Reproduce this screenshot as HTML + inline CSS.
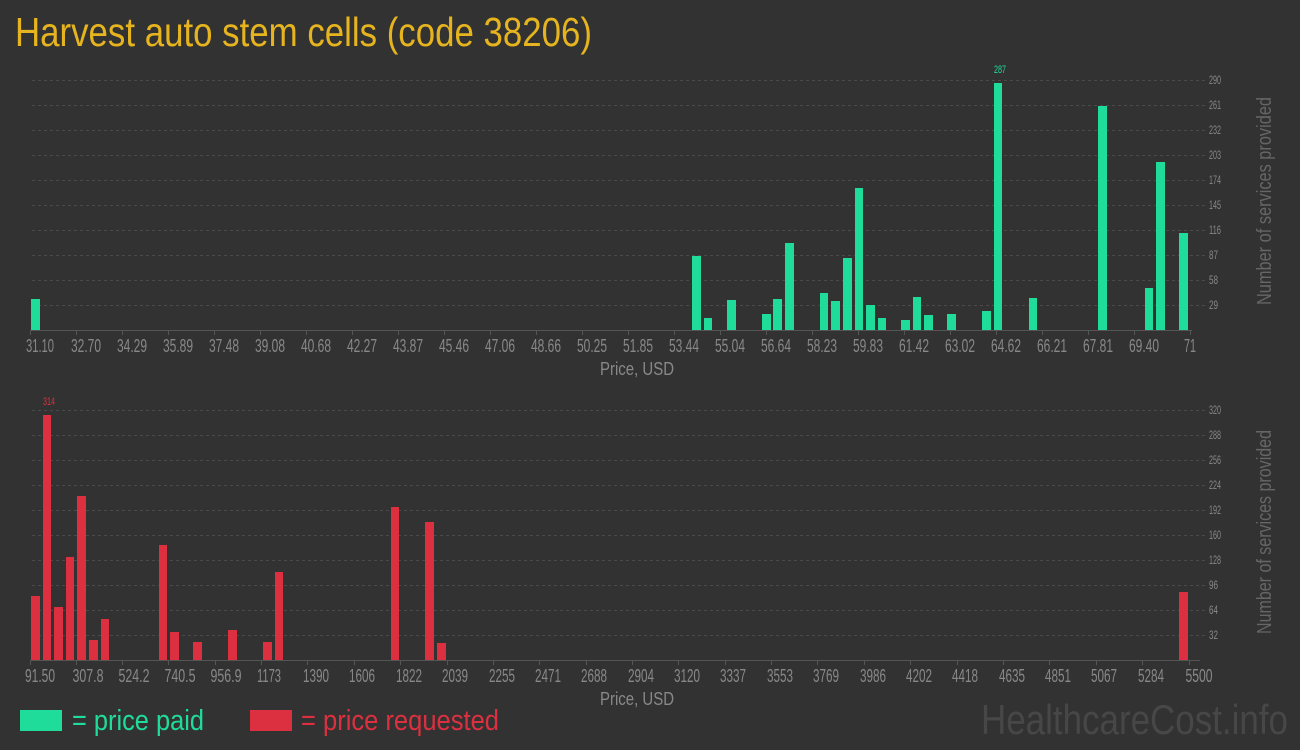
<!DOCTYPE html>
<html><head><meta charset="utf-8"><style>
html,body{margin:0;padding:0;background:#323232;}
svg{display:block;}
text{font-family:"Liberation Sans",sans-serif;}
</style></head><body>
<svg width="1300" height="750" viewBox="0 0 1300 750" xmlns="http://www.w3.org/2000/svg">
<rect width="1300" height="750" fill="#323232"/>
<text x="15" y="46" font-size="41" fill="#e6b41e" textLength="577" lengthAdjust="spacingAndGlyphs">Harvest auto stem cells (code 38206)</text>

<!-- TOP CHART -->
<g stroke="#4a4a4a" stroke-dasharray="3,3" stroke-width="1">
<line x1="32" y1="80.5" x2="1206" y2="80.5"/><line x1="32" y1="105.5" x2="1206" y2="105.5"/><line x1="32" y1="130.5" x2="1206" y2="130.5"/><line x1="32" y1="155.5" x2="1206" y2="155.5"/><line x1="32" y1="180.5" x2="1206" y2="180.5"/><line x1="32" y1="205.5" x2="1206" y2="205.5"/><line x1="32" y1="230.5" x2="1206" y2="230.5"/><line x1="32" y1="255.5" x2="1206" y2="255.5"/><line x1="32" y1="280.5" x2="1206" y2="280.5"/><line x1="32" y1="305.5" x2="1206" y2="305.5"/>
</g>
<g font-size="12" fill="#888">
<text x="1209" y="84" textLength="12" lengthAdjust="spacingAndGlyphs">290</text><text x="1209" y="109" textLength="12" lengthAdjust="spacingAndGlyphs">261</text><text x="1209" y="134" textLength="12" lengthAdjust="spacingAndGlyphs">232</text><text x="1209" y="159" textLength="12" lengthAdjust="spacingAndGlyphs">203</text><text x="1209" y="184" textLength="12" lengthAdjust="spacingAndGlyphs">174</text><text x="1209" y="209" textLength="12" lengthAdjust="spacingAndGlyphs">145</text><text x="1209" y="234" textLength="12" lengthAdjust="spacingAndGlyphs">116</text><text x="1209" y="259" textLength="9" lengthAdjust="spacingAndGlyphs">87</text><text x="1209" y="284" textLength="9" lengthAdjust="spacingAndGlyphs">58</text><text x="1209" y="309" textLength="9" lengthAdjust="spacingAndGlyphs">29</text>
</g>
<g fill="#20dc9a">
<rect x="31" y="299" width="9" height="31"/>
<rect x="692" y="256" width="9" height="74"/><rect x="704" y="318" width="8" height="12"/><rect x="727" y="300" width="9" height="30"/><rect x="762" y="314" width="9" height="16"/><rect x="773" y="299" width="9" height="31"/><rect x="785" y="243" width="9" height="87"/><rect x="820" y="293" width="8" height="37"/><rect x="831" y="301" width="9" height="29"/><rect x="843" y="258" width="9" height="72"/><rect x="855" y="188" width="8" height="142"/><rect x="866" y="305" width="9" height="25"/><rect x="878" y="318" width="8" height="12"/><rect x="901" y="320" width="9" height="10"/><rect x="913" y="297" width="8" height="33"/><rect x="924" y="315" width="9" height="15"/><rect x="947" y="314" width="9" height="16"/><rect x="982" y="311" width="9" height="19"/><rect x="994" y="83" width="8" height="247"/><rect x="1029" y="298" width="8" height="32"/><rect x="1098" y="106" width="9" height="224"/><rect x="1145" y="288" width="8" height="42"/><rect x="1156" y="162" width="9" height="168"/><rect x="1179" y="233" width="9" height="97"/>
</g>
<text x="1000" y="73" font-size="11" fill="#20dc9a" text-anchor="middle" textLength="12" lengthAdjust="spacingAndGlyphs">287</text>
<line x1="30" y1="330.5" x2="1192" y2="330.5" stroke="#555" stroke-width="1"/>
<g font-size="18" fill="#888" text-anchor="middle">
<text x="40" y="352" textLength="28" lengthAdjust="spacingAndGlyphs">31.10</text><text x="86" y="352" textLength="30" lengthAdjust="spacingAndGlyphs">32.70</text><text x="132" y="352" textLength="30" lengthAdjust="spacingAndGlyphs">34.29</text><text x="178" y="352" textLength="30" lengthAdjust="spacingAndGlyphs">35.89</text><text x="224" y="352" textLength="30" lengthAdjust="spacingAndGlyphs">37.48</text><text x="270" y="352" textLength="30" lengthAdjust="spacingAndGlyphs">39.08</text><text x="316" y="352" textLength="30" lengthAdjust="spacingAndGlyphs">40.68</text><text x="362" y="352" textLength="30" lengthAdjust="spacingAndGlyphs">42.27</text><text x="408" y="352" textLength="30" lengthAdjust="spacingAndGlyphs">43.87</text><text x="454" y="352" textLength="30" lengthAdjust="spacingAndGlyphs">45.46</text><text x="500" y="352" textLength="30" lengthAdjust="spacingAndGlyphs">47.06</text><text x="546" y="352" textLength="30" lengthAdjust="spacingAndGlyphs">48.66</text><text x="592" y="352" textLength="30" lengthAdjust="spacingAndGlyphs">50.25</text><text x="638" y="352" textLength="30" lengthAdjust="spacingAndGlyphs">51.85</text><text x="684" y="352" textLength="30" lengthAdjust="spacingAndGlyphs">53.44</text><text x="730" y="352" textLength="30" lengthAdjust="spacingAndGlyphs">55.04</text><text x="776" y="352" textLength="30" lengthAdjust="spacingAndGlyphs">56.64</text><text x="822" y="352" textLength="30" lengthAdjust="spacingAndGlyphs">58.23</text><text x="868" y="352" textLength="30" lengthAdjust="spacingAndGlyphs">59.83</text><text x="914" y="352" textLength="30" lengthAdjust="spacingAndGlyphs">61.42</text><text x="960" y="352" textLength="30" lengthAdjust="spacingAndGlyphs">63.02</text><text x="1006" y="352" textLength="30" lengthAdjust="spacingAndGlyphs">64.62</text><text x="1052" y="352" textLength="30" lengthAdjust="spacingAndGlyphs">66.21</text><text x="1098" y="352" textLength="30" lengthAdjust="spacingAndGlyphs">67.81</text><text x="1144" y="352" textLength="30" lengthAdjust="spacingAndGlyphs">69.40</text><text x="1190" y="352" textLength="12" lengthAdjust="spacingAndGlyphs">71</text>
</g>
<text x="637" y="375" font-size="18" fill="#888" text-anchor="middle" textLength="74" lengthAdjust="spacingAndGlyphs">Price, USD</text>
<text transform="translate(1271,201) rotate(-90)" font-size="20" fill="#666" text-anchor="middle" textLength="208" lengthAdjust="spacingAndGlyphs">Number of services provided</text>

<!-- BOTTOM CHART -->
<g stroke="#4a4a4a" stroke-dasharray="3,3" stroke-width="1">
<line x1="32" y1="410.5" x2="1206" y2="410.5"/><line x1="32" y1="435.5" x2="1206" y2="435.5"/><line x1="32" y1="460.5" x2="1206" y2="460.5"/><line x1="32" y1="485.5" x2="1206" y2="485.5"/><line x1="32" y1="510.5" x2="1206" y2="510.5"/><line x1="32" y1="535.5" x2="1206" y2="535.5"/><line x1="32" y1="560.5" x2="1206" y2="560.5"/><line x1="32" y1="585.5" x2="1206" y2="585.5"/><line x1="32" y1="610.5" x2="1206" y2="610.5"/><line x1="32" y1="635.5" x2="1206" y2="635.5"/>
</g>
<g font-size="12" fill="#888">
<text x="1209" y="414" textLength="12" lengthAdjust="spacingAndGlyphs">320</text><text x="1209" y="439" textLength="12" lengthAdjust="spacingAndGlyphs">288</text><text x="1209" y="464" textLength="12" lengthAdjust="spacingAndGlyphs">256</text><text x="1209" y="489" textLength="12" lengthAdjust="spacingAndGlyphs">224</text><text x="1209" y="514" textLength="12" lengthAdjust="spacingAndGlyphs">192</text><text x="1209" y="539" textLength="12" lengthAdjust="spacingAndGlyphs">160</text><text x="1209" y="564" textLength="12" lengthAdjust="spacingAndGlyphs">128</text><text x="1209" y="589" textLength="9" lengthAdjust="spacingAndGlyphs">96</text><text x="1209" y="614" textLength="9" lengthAdjust="spacingAndGlyphs">64</text><text x="1209" y="639" textLength="9" lengthAdjust="spacingAndGlyphs">32</text>
</g>
<g fill="#dc3040">
<rect x="31" y="596" width="9" height="64"/><rect x="43" y="415" width="8" height="245"/><rect x="54" y="607" width="9" height="53"/><rect x="66" y="557" width="8" height="103"/><rect x="77" y="496" width="9" height="164"/><rect x="89" y="640" width="9" height="20"/><rect x="101" y="619" width="8" height="41"/><rect x="159" y="545" width="8" height="115"/><rect x="170" y="632" width="9" height="28"/><rect x="193" y="642" width="9" height="18"/><rect x="228" y="630" width="9" height="30"/><rect x="263" y="642" width="9" height="18"/><rect x="275" y="572" width="8" height="88"/><rect x="391" y="507" width="8" height="153"/><rect x="425" y="522" width="9" height="138"/><rect x="437" y="643" width="9" height="17"/><rect x="1179" y="592" width="9" height="68"/>
</g>
<text x="49" y="405" font-size="11" fill="#dc3040" text-anchor="middle" textLength="12" lengthAdjust="spacingAndGlyphs">314</text>
<line x1="30" y1="660.5" x2="1200" y2="660.5" stroke="#555" stroke-width="1"/>
<g font-size="18" fill="#888" text-anchor="middle">
<text x="40" y="682" textLength="30" lengthAdjust="spacingAndGlyphs">91.50</text><text x="88" y="682" textLength="31" lengthAdjust="spacingAndGlyphs">307.8</text><text x="134" y="682" textLength="31" lengthAdjust="spacingAndGlyphs">524.2</text><text x="180" y="682" textLength="31" lengthAdjust="spacingAndGlyphs">740.5</text><text x="226" y="682" textLength="31" lengthAdjust="spacingAndGlyphs">956.9</text><text x="269" y="682" textLength="24" lengthAdjust="spacingAndGlyphs">1173</text><text x="316" y="682" textLength="26" lengthAdjust="spacingAndGlyphs">1390</text><text x="362" y="682" textLength="26" lengthAdjust="spacingAndGlyphs">1606</text><text x="409" y="682" textLength="26" lengthAdjust="spacingAndGlyphs">1822</text><text x="455" y="682" textLength="26" lengthAdjust="spacingAndGlyphs">2039</text><text x="502" y="682" textLength="26" lengthAdjust="spacingAndGlyphs">2255</text><text x="548" y="682" textLength="26" lengthAdjust="spacingAndGlyphs">2471</text><text x="594" y="682" textLength="26" lengthAdjust="spacingAndGlyphs">2688</text><text x="641" y="682" textLength="26" lengthAdjust="spacingAndGlyphs">2904</text><text x="687" y="682" textLength="26" lengthAdjust="spacingAndGlyphs">3120</text><text x="733" y="682" textLength="26" lengthAdjust="spacingAndGlyphs">3337</text><text x="780" y="682" textLength="26" lengthAdjust="spacingAndGlyphs">3553</text><text x="826" y="682" textLength="26" lengthAdjust="spacingAndGlyphs">3769</text><text x="873" y="682" textLength="26" lengthAdjust="spacingAndGlyphs">3986</text><text x="919" y="682" textLength="26" lengthAdjust="spacingAndGlyphs">4202</text><text x="965" y="682" textLength="26" lengthAdjust="spacingAndGlyphs">4418</text><text x="1012" y="682" textLength="26" lengthAdjust="spacingAndGlyphs">4635</text><text x="1058" y="682" textLength="26" lengthAdjust="spacingAndGlyphs">4851</text><text x="1104" y="682" textLength="26" lengthAdjust="spacingAndGlyphs">5067</text><text x="1151" y="682" textLength="26" lengthAdjust="spacingAndGlyphs">5284</text><text x="1199" y="682" textLength="27" lengthAdjust="spacingAndGlyphs">5500</text>
</g>
<text x="637" y="705" font-size="18" fill="#888" text-anchor="middle" textLength="74" lengthAdjust="spacingAndGlyphs">Price, USD</text>
<text transform="translate(1271,532) rotate(-90)" font-size="20" fill="#666" text-anchor="middle" textLength="204" lengthAdjust="spacingAndGlyphs">Number of services provided</text>

<!-- tick marks -->
<g stroke="#555" stroke-width="1">
<line x1="30.5" y1="330" x2="30.5" y2="335"/><line x1="76.5" y1="330" x2="76.5" y2="335"/><line x1="122.5" y1="330" x2="122.5" y2="335"/><line x1="168.5" y1="330" x2="168.5" y2="335"/><line x1="214.5" y1="330" x2="214.5" y2="335"/><line x1="260.5" y1="330" x2="260.5" y2="335"/><line x1="306.5" y1="330" x2="306.5" y2="335"/><line x1="352.5" y1="330" x2="352.5" y2="335"/><line x1="398.5" y1="330" x2="398.5" y2="335"/><line x1="444.5" y1="330" x2="444.5" y2="335"/><line x1="490.5" y1="330" x2="490.5" y2="335"/><line x1="536.5" y1="330" x2="536.5" y2="335"/><line x1="582.5" y1="330" x2="582.5" y2="335"/><line x1="628.5" y1="330" x2="628.5" y2="335"/><line x1="674.5" y1="330" x2="674.5" y2="335"/><line x1="720.5" y1="330" x2="720.5" y2="335"/><line x1="766.5" y1="330" x2="766.5" y2="335"/><line x1="812.5" y1="330" x2="812.5" y2="335"/><line x1="858.5" y1="330" x2="858.5" y2="335"/><line x1="904.5" y1="330" x2="904.5" y2="335"/><line x1="950.5" y1="330" x2="950.5" y2="335"/><line x1="996.5" y1="330" x2="996.5" y2="335"/><line x1="1042.5" y1="330" x2="1042.5" y2="335"/><line x1="1088.5" y1="330" x2="1088.5" y2="335"/><line x1="1134.5" y1="330" x2="1134.5" y2="335"/><line x1="1190.5" y1="330" x2="1190.5" y2="335"/>
<line x1="30.5" y1="660" x2="30.5" y2="665"/><line x1="76.5" y1="660" x2="76.5" y2="665"/><line x1="122.5" y1="660" x2="122.5" y2="665"/><line x1="168.5" y1="660" x2="168.5" y2="665"/><line x1="215.5" y1="660" x2="215.5" y2="665"/><line x1="261.5" y1="660" x2="261.5" y2="665"/><line x1="307.5" y1="660" x2="307.5" y2="665"/><line x1="354.5" y1="660" x2="354.5" y2="665"/><line x1="400.5" y1="660" x2="400.5" y2="665"/><line x1="447.5" y1="660" x2="447.5" y2="665"/><line x1="493.5" y1="660" x2="493.5" y2="665"/><line x1="539.5" y1="660" x2="539.5" y2="665"/><line x1="586.5" y1="660" x2="586.5" y2="665"/><line x1="632.5" y1="660" x2="632.5" y2="665"/><line x1="678.5" y1="660" x2="678.5" y2="665"/><line x1="725.5" y1="660" x2="725.5" y2="665"/><line x1="771.5" y1="660" x2="771.5" y2="665"/><line x1="817.5" y1="660" x2="817.5" y2="665"/><line x1="864.5" y1="660" x2="864.5" y2="665"/><line x1="910.5" y1="660" x2="910.5" y2="665"/><line x1="957.5" y1="660" x2="957.5" y2="665"/><line x1="1003.5" y1="660" x2="1003.5" y2="665"/><line x1="1049.5" y1="660" x2="1049.5" y2="665"/><line x1="1096.5" y1="660" x2="1096.5" y2="665"/><line x1="1142.5" y1="660" x2="1142.5" y2="665"/><line x1="1189.5" y1="660" x2="1189.5" y2="665"/>
</g>

<!-- legend -->
<rect x="20" y="710" width="42" height="21" fill="#20dc9a"/>
<text x="72" y="730" font-size="29" fill="#20dc9a" textLength="132" lengthAdjust="spacingAndGlyphs">= price paid</text>
<rect x="250" y="710" width="42" height="21" fill="#dc3040"/>
<text x="301" y="730" font-size="29" fill="#dc3040" textLength="198" lengthAdjust="spacingAndGlyphs">= price requested</text>
<text x="981" y="734" font-size="42" fill="#474747" textLength="307" lengthAdjust="spacingAndGlyphs">HealthcareCost.info</text>
</svg>
</body></html>
